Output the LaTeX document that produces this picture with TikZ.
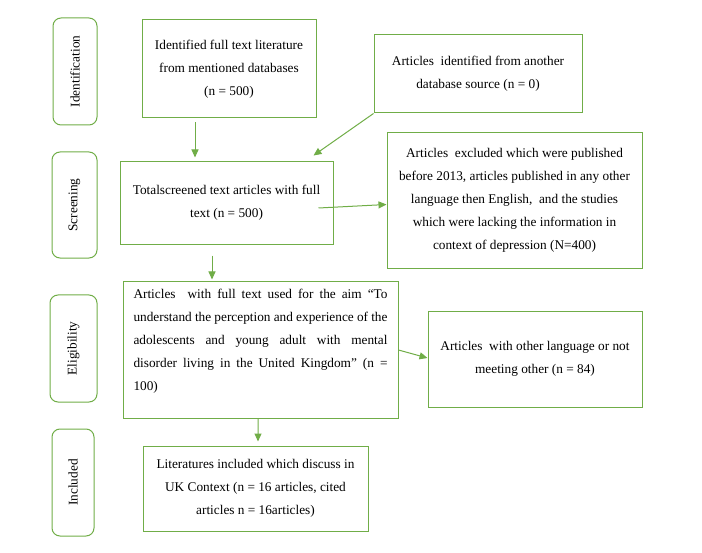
\documentclass[tikz,border=0pt]{standalone}
\usepackage{fontspec}
\setmainfont{Liberation Serif}
\usetikzlibrary{arrows.meta}
\definecolor{boxgreen}{HTML}{70AD47}
\newcommand{\boxfont}{\fontsize{13.3bp}{23bp}\selectfont}
\tikzset{
  box/.style={draw=boxgreen, line width=1bp, inner sep=0pt, align=center, font=\boxfont},
  stage/.style={draw=boxgreen, line width=1bp, rounded corners=8bp, inner sep=0pt, font=\boxfont},
  arr/.style={draw=boxgreen, line width=1bp, -{Triangle[length=8bp,width=7bp]}},
}
\begin{document}
\begin{tikzpicture}[x=1bp,y=-1bp]
\useasboundingbox (0,0) rectangle (702,553);
% stage boxes
\node[stage, minimum width=44bp, minimum height=107bp] (sId) at (75,71.5) {};
\node[rotate=90, font=\boxfont] (tId) at (sId.center) {Identification};
\node[stage, minimum width=45bp, minimum height=106bp] (sSc) at (74.5,205) {};
\node[rotate=90, font=\boxfont] (tSc) at (sSc.center) {Screening};
\node[stage, minimum width=47bp, minimum height=107bp] (sEl) at (73.5,348.5) {};
\node[rotate=90, font=\boxfont] (tEl) at (sEl.center) {Eligibility};
\node[stage, minimum width=42bp, minimum height=107bp] (sIn) at (73,482.5) {};
\node[rotate=90, font=\boxfont] (tIn) at (sIn.center) {Included};
% main boxes
\node[box, minimum width=174bp, minimum height=98bp] (b1) at (229,69)
  {Identified full text literature\\from mentioned databases\\(n = 500)};
\node[box, minimum width=208bp, minimum height=78bp] (b2) at (478,74)
  {Articles\ \ identified from another\\database source (n = 0)};
\node[box, minimum width=255bp, minimum height=135bp] (b3) at (514.5,200.5)
  {Articles\ \ excluded which were published\\before 2013, articles published in any other\\language then English,\ \ and the studies\\which were lacking the information in\\context of depression (N=400)};
\node[box, minimum width=213bp, minimum height=82bp] (scr) at (226.5,203)
  {Totalscreened text articles with full\\text (n = 500)};
\node[box, minimum width=275bp, minimum height=136bp] (elig) at (260.5,350)
  {\parbox[c][122bp][t]{254bp}{\boxfont Articles\ \ with full text used for the aim ``To\linebreak understand the perception and experience of the\linebreak adolescents and young adult with mental\linebreak disorder living in the United Kingdom'' (n =\linebreak 100)}};
\node[box, minimum width=214bp, minimum height=96bp] (b84) at (535,359)
  {Articles\ \ with other language or not\\meeting other (n = 84)};
\node[box, minimum width=225bp, minimum height=85bp] (inc) at (255.5,488.5)
  {Literatures included which discuss in\\UK Context (n = 16 articles, cited\\articles n = 16articles)};
% connectors
\draw[arr] ([shift={(-34,4)}]b1.south) -- ([shift={(-31.5,-4)}]scr.north);
\draw[arr] (b2.south west) -- ([shift={(-20,-6)}]scr.north east);
\draw[arr] ([shift={(-15,5)}]scr.east) -- ([shift={(0,4)}]b3.west);
\draw[arr] ([shift={(-14.5,11)}]scr.south) -- ([shift={(-48.5,-2)}]elig.north);
\draw[arr] (elig.east) -- ([shift={(0,-1)}]b84.west);
\draw[arr] ([shift={(-2.5,0)}]elig.south) -- ([shift={(2.5,-4)}]inc.north);
\end{tikzpicture}
\end{document}
